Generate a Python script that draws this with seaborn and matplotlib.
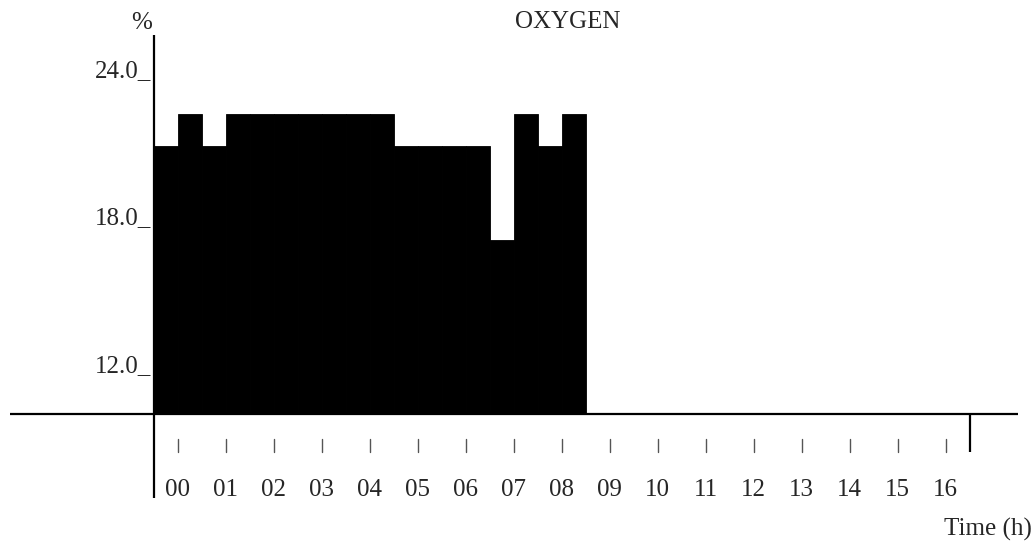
import matplotlib

matplotlib.use("Agg")

import matplotlib.pyplot as plt
import seaborn as sns
from matplotlib.patches import Rectangle

# half-hour slots (start hour) and oxygen level in %
slot_start = [-0.5, 0.0, 0.5, 1.0, 1.5, 2.0, 2.5, 3.0, 3.5,
              4.0, 4.5, 5.0, 5.5, 6.0, 6.5, 7.0, 7.5, 8.0]
oxygen = [20.9, 22.2, 20.9, 22.2, 22.2, 22.2, 22.2, 22.2, 22.2,
          22.2, 20.9, 20.9, 20.9, 20.9, 17.1, 22.2, 20.9, 22.2]

hours = [0, 1, 2, 3, 4, 5, 6, 7, 8, 9, 10, 11, 12, 13, 14, 15, 16]
hour_labels = ["00", "01", "02", "03", "04", "05", "06", "07", "08",
               "09", "10", "11", "12", "13", "14", "15", "16"]
y_ticks = [24.0, 18.0, 12.0]
y_labels = ["24.0_", "18.0_", "12.0_"]

base = 10.0

sns.set_style("white")
plt.rcParams["font.family"] = ["Liberation Serif", "DejaVu Serif"]

fig = plt.figure(figsize=(10.36, 5.46), dpi=100)
ax = fig.add_axes([0, 0, 1, 1])

centers = [s + 0.25 for s in slot_start]
sns.barplot(x=centers, y=oxygen, native_scale=True, width=1, color="black",
            saturation=1, edgecolor="black", linewidth=0.6, ax=ax)

# bars only show above the base line
clip = Rectangle((-0.5, base), 30, 30, transform=ax.transData)
for p in ax.patches:
    p.set_clip_path(clip)

ax.set_xlim(-3.702, 17.881)
ax.set_ylim(4.635, 26.85)
ax.axis("off")

fs = 18
line_kw = dict(color="black", linewidth=1.6, solid_capstyle="butt")

# axes lines
ax.plot([-0.5, -0.5], [6.59, 25.42], **line_kw)
ax.plot([-3.5, 17.5], [base, base], **line_kw)
ax.plot([16.5, 16.5], [8.46, base], **line_kw)

# hour ticks and labels
for h, lab in zip(hours, hour_labels):
    ax.plot([h, h], [8.46, 8.99], color="#555555", linewidth=1.0)
    ax.text(h, 6.93, lab, ha="center", va="center", fontsize=fs)

# y tick labels
for v, lab in zip(y_ticks, y_labels):
    ax.annotate(lab, (-0.542, v), xytext=(0, -7), textcoords="offset pixels",
                ha="right", va="baseline", fontsize=fs)

ax.text(-0.744, 25.91, "%", ha="center", va="center", fontsize=fs)
ax.text(8.13, 25.95, "OXYGEN", ha="center", va="center", fontsize=fs)
ax.text(17.8, 5.29, "Time (h)", ha="right", va="center", fontsize=fs)

plt.savefig("out.png", dpi=100)
plt.close()
